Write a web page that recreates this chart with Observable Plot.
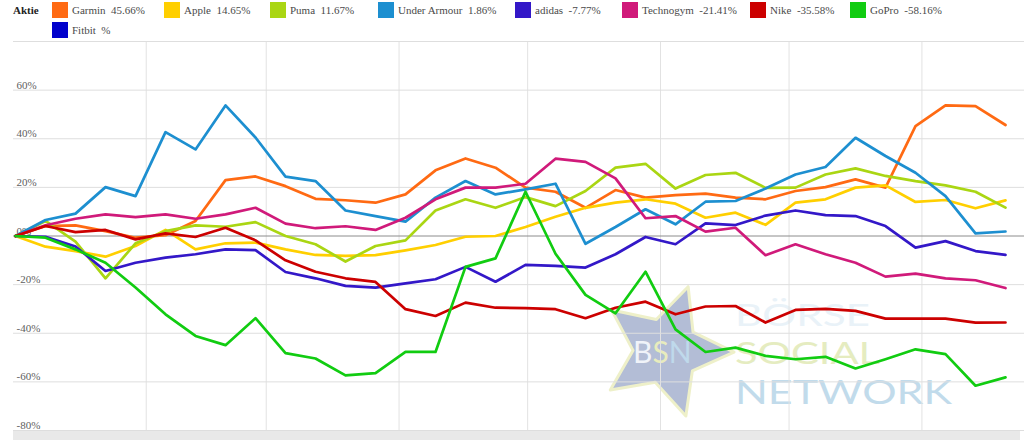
<!DOCTYPE html>
<html>
<head>
<meta charset="utf-8">
<script src="https://cdn.jsdelivr.net/npm/d3@7"></script>
<script src="https://cdn.jsdelivr.net/npm/@observablehq/plot@0.6"></script>
<style>
  html, body { margin: 0; padding: 0; background: #fff; }
  #wrap { position: relative; width: 1024px; height: 440px; overflow: hidden; }
  #legend { position: relative; width: 1024px; height: 40px; font-family: "Liberation Serif", "DejaVu Serif", serif; font-size: 11px; color: #4a4a4a; }
  #legend .title { position: absolute; left: 13px; top: 4px; font-weight: bold; color: #222; }
  #legend .item { position: absolute; display: flex; align-items: center; white-space: pre; }
  #legend .sw { width: 16px; height: 16px; margin-right: 4px; }
  #bar { position: absolute; left: 13px; top: 431px; width: 1007px; height: 9px; background: #e9e9e9; }
</style>
</head>
<body>
<div id="wrap">
  <div id="legend"></div>
  <div id="chart"></div>
  <div id="bar"></div>
</div>
<script>
// ---- data ----
const names  = ["Garmin", "Apple", "Puma", "Under Armour", "adidas", "Technogym", "Nike", "GoPro", "Fitbit"];
const colors = ["#ff6a13", "#ffcf00", "#aad613", "#1d8fd0", "#3318c8", "#d01a7a", "#cc0000", "#11cc11", "#0000cc"];

const garmin      = [0, 4.1, 4.4, 2, -0.7, 0.3, 6.2, 23, 24.5, 20.5, 15.3, 14.7, 13.7, 17.1, 27, 31.9, 28.1, 19.9, 18.2, 11.6, 18.9, 15.8, 16.8, 17.4, 15.8, 15.1, 18.5, 20.1, 23.3, 19.9, 45.2, 53.7, 53.4, 45.66];
const apple       = [0, -4.4, -6.2, -8.5, -4.1, 2.5, -5.5, -3, -2.7, -5.5, -7.8, -8.2, -7.9, -5.9, -3.7, -0.3, 0, 3.7, 7.9, 11.6, 13.7, 15.1, 13.3, 7.5, 9.6, 4.6, 13.7, 15.1, 19.9, 20.8, 14, 14.8, 11.4, 14.65];
const puma        = [0, 6.2, -2.3, -17.4, -3, 2, 4.4, 3.8, 5.7, 0, -3.4, -10.5, -4.1, -1.8, 10.5, 15.1, 11.6, 16, 12.3, 18.5, 28.1, 29.7, 19.5, 25.1, 26, 19.8, 19.9, 25.3, 27.8, 24.7, 22.6, 20.8, 18.2, 11.67];
const underArmour = [0, 6.6, 9.2, 20.1, 16.4, 42.7, 35.6, 53.7, 40.5, 24.4, 22.6, 10.5, 8.2, 5.9, 15.8, 22.6, 17.1, 19.2, 21.5, -3.2, 3.7, 11, 4.8, 14.1, 14.4, 19.5, 25.3, 28.4, 40.4, 32.9, 26, 16.4, 1.1, 1.86];
const adidas      = [0, -0.3, -4.3, -14.4, -11, -8.9, -7.5, -5.5, -5.8, -14.8, -17.4, -20.5, -21.2, -19.5, -17.8, -12.7, -18.8, -11.9, -12.3, -13, -7.5, -0.4, -3.4, 5.2, 4.5, 8.4, 10.5, 8.6, 8.2, 4.1, -4.8, -2.1, -6.2, -7.77];
const technogym   = [0, 4.4, 7.1, 8.9, 7.8, 8.9, 7.1, 8.9, 11.6, 5.1, 3.2, 4, 2.5, 7.5, 15.1, 19.9, 19.9, 21.5, 31.8, 30.5, 23.7, 7.3, 8.2, 1.8, 3.4, -7.9, -3.4, -7.5, -11, -16.7, -15.5, -17.4, -18.2, -21.41];
const nike        = [0, 4.1, 1.6, 2.5, -1.4, 1.1, -0.4, 3.4, -1.8, -10, -14.7, -17.4, -18.9, -30.1, -32.9, -27.4, -29.5, -29.7, -30.1, -33.8, -29.5, -27, -32.2, -29, -28.8, -35.6, -30.4, -30, -30.8, -34, -34, -34, -35.6, -35.58];
const gopro       = [0, -0.7, -5.5, -11, -21.2, -32.2, -41.1, -44.9, -33.8, -48.2, -50.4, -57.3, -56.4, -47.7, -47.7, -12.7, -9.2, 18.2, -7.3, -24.2, -31.8, -14.7, -38.4, -47.7, -45.9, -49.3, -50.7, -49.7, -54.5, -50.7, -46.6, -48.6, -61.6, -58.16];
const fitbit      = [];

const seriesValues = [garmin, apple, puma, underArmour, adidas, technogym, nike, gopro, fitbit];

// weekly observation dates
const startDate = new Date(Date.UTC(2017, 0, 1, 12));
const dates = d3.range(garmin.length).map(i => d3.utcDay.offset(startDate, 7 * i));

const yTicks = [-80, -60, -40, -20, 0, 20, 40, 60, 80];
const yLabels = [-80, -60, -40, -20, 0, 20, 40, 60];

// ---- legend ----
const legendLeft = [52, 164, 270, 378, 515, 622, 750, 850, 52];
const legendTop  = [2, 2, 2, 2, 2, 2, 2, 2, 22];
const legend = document.getElementById("legend");
const t = document.createElement("div");
t.className = "title"; t.textContent = "Aktie";
legend.appendChild(t);
names.forEach((n, i) => {
  const vals = seriesValues[i];
  const last = vals.length ? vals[vals.length - 1].toFixed(2) : "";
  const it = document.createElement("div");
  it.className = "item";
  it.style.left = legendLeft[i] + "px";
  it.style.top = legendTop[i] + "px";
  const sw = document.createElement("span");
  sw.className = "sw"; sw.style.background = colors[i];
  const tx = document.createElement("span");
  tx.textContent = n + "  " + last + "%";
  it.appendChild(sw); it.appendChild(tx);
  legend.appendChild(it);
});

// ---- chart ----
const rows = [];
seriesValues.forEach((vals, s) => vals.forEach((v, i) => rows.push({name: names[s], date: dates[i], value: v})));

const monthStarts = d3.utcMonths(dates[0], dates[dates.length - 1]);

const chart = Plot.plot({
  width: 1024,
  height: 400,
  marginTop: 1,
  marginBottom: 10,
  marginLeft: 15,
  marginRight: 19,
  style: {background: "transparent", overflow: "visible"},
  x: {type: "utc", domain: [dates[0], dates[dates.length - 1]], axis: null},
  y: {domain: [-80, 80], axis: null},
  color: {domain: names, range: colors},
  marks: [
    Plot.ruleX(monthStarts, {stroke: "#e2e2e2", strokeWidth: 1}),
    Plot.ruleY(yTicks.filter(d => d !== 0), {stroke: "#dedede", strokeWidth: 1, insetLeft: -2, insetRight: -19}),
    Plot.ruleY([0], {stroke: "#8c8c8c", strokeWidth: 1, insetLeft: -2, insetRight: -19}),
    Plot.text(yLabels, {y: d => d, text: d => d + "%", frameAnchor: "left", textAnchor: "start", dx: 1, dy: -5,
      fill: "#606060", fontSize: 11, fontFamily: "Liberation Serif, DejaVu Serif, serif"}),
    Plot.line(rows, {x: "date", y: "value", z: "name", stroke: "name", strokeWidth: 2.7, curve: "linear"})
  ]
});
document.getElementById("chart").appendChild(chart);

// ---- watermark (behind everything) ----
const svg = d3.select(chart);
const wm = svg.insert("g", ":first-child").attr("opacity", 0.85).attr("text-anchor", "start");
const cx = 666, cy = 311, R = 68, r = 33, rot = 19 * Math.PI / 180;
const starPts = d3.range(10).map(k => {
  const rad = k % 2 === 0 ? R : r;
  const a = -Math.PI / 2 + rot + k * Math.PI / 5;
  return [cx + rad * Math.cos(a), cy + rad * Math.sin(a)];
});
wm.append("polygon").attr("points", starPts.map(p => p.join(",")).join(" "))
  .attr("fill", "#a6b2cf").attr("stroke", "#eceec0").attr("stroke-width", 3).attr("stroke-linejoin", "round");
const bsn = wm.append("text").attr("x", 633).attr("y", 323).attr("text-anchor", "start")
  .attr("font-family", "Lato, sans-serif").attr("font-size", 30);
bsn.append("tspan").attr("fill", "#eef2f8").text("B");
bsn.append("tspan").attr("fill", "#e4e9b2").text("S");
bsn.append("tspan").attr("fill", "#b5d3e8").text("N");
const words = wm.append("text").attr("text-anchor", "start").attr("font-family", "Lato, sans-serif");
words.append("tspan").attr("x", 735).attr("y", 286).attr("font-size", 31).attr("fill", "#e6f0f7")
  .attr("textLength", 135).attr("lengthAdjust", "spacingAndGlyphs").text("BÖRSE");
words.append("tspan").attr("x", 735).attr("y", 324).attr("font-size", 31).attr("fill", "#e1e9b6")
  .attr("textLength", 145).attr("lengthAdjust", "spacingAndGlyphs").text("SOCIAL");
words.append("tspan").attr("x", 735).attr("y", 364).attr("font-size", 33).attr("fill", "#b7d5e8")
  .attr("textLength", 217).attr("lengthAdjust", "spacingAndGlyphs").text("NETWORK");
</script>
</body>
</html>
